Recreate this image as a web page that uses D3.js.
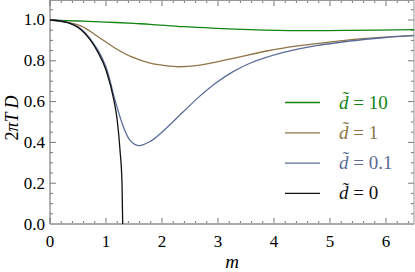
<!DOCTYPE html>
<html>
<head>
<meta charset="utf-8">
<script src="https://cdn.jsdelivr.net/npm/d3@7"></script>
<style>
  body { margin: 0; background: #fff; }
  #chart text { font-family: "Liberation Serif", "DejaVu Serif", "Times New Roman", Times, serif; }
</style>
</head>
<body>
<svg id="chart" width="415" height="272"></svg>
<script>
// values: [m, 2πTD]
var d10 = [[0,1],[0.5,0.995],[1,0.99],[1.5,0.983],[1.79,0.979],[2.38,0.967],[2.98,0.959],[3.57,0.953],[4.46,0.948],[5.4,0.949],[6.5,0.953]];
var d1 = [[0,1],[0.3,0.99],[0.56,0.97],[0.86,0.918],[1.15,0.864],[1.45,0.82],[1.79,0.788],[1.93,0.781],[2.26,0.771],[2.68,0.779],[3.27,0.812],[3.87,0.848],[4.46,0.874],[5.06,0.894],[5.65,0.91],[6.5,0.925]];
var d01 = [[0,1],[0.3,0.99],[0.56,0.955],[0.85,0.855],[1.0,0.77],[1.16,0.608],[1.31,0.477],[1.43,0.41],[1.58,0.384],[1.79,0.405],[2.02,0.455],[2.38,0.55],[2.68,0.628],[2.98,0.695],[3.27,0.747],[3.57,0.788],[4.17,0.841],[4.76,0.874],[5.36,0.897],[5.95,0.913],[6.5,0.923]];
var d0 = [[0,1],[0.3,0.988],[0.56,0.951],[0.85,0.845],[1.0,0.755],[1.14,0.608],[1.2,0.51],[1.25,0.363],[1.286,0.2],[1.298,0]];

var seriesNames = ["10", "1", "0.1", "0"];
var seriesColors = ["#128412", "#8e7446", "#5a6c98", "#111"];
var seriesData = [d10, d1, d01, d0];

var xTicks = [0,1,2,3,4,5,6];
var yTicks = [0,0.2,0.4,0.6,0.8,1.0];

(function() {
var svg = d3.select("#chart");
var pl = 50, pr = 414, pt = 0, pb = 224;

var x = d3.scaleLinear().domain([0, 6.5]).range([pl, pr]);
var y = d3.scaleLinear().domain([0, 1.098]).range([pb, pt]);

var tickCol = "#777";

// minor ticks
var xMinor = d3.range(0, 6.5001, 0.2);
var yMinor = d3.range(0, 1.1, 0.05);

var g = svg.append("g");
xMinor.forEach(function(v) {
  var major = Math.abs(v - Math.round(v)) < 1e-6;
  var len = major ? 6 : 3;
  g.append("line").attr("x1", x(v)).attr("x2", x(v)).attr("y1", pb).attr("y2", pb - len).attr("stroke", tickCol);
  g.append("line").attr("x1", x(v)).attr("x2", x(v)).attr("y1", pt).attr("y2", pt + len).attr("stroke", tickCol);
});
yMinor.forEach(function(v) {
  var major = Math.abs(v * 5 - Math.round(v * 5)) < 1e-6;
  var len = major ? 6 : 3;
  g.append("line").attr("x1", pl).attr("x2", pl + len).attr("y1", y(v)).attr("y2", y(v)).attr("stroke", tickCol);
  g.append("line").attr("x1", pr).attr("x2", pr - len).attr("y1", y(v)).attr("y2", y(v)).attr("stroke", tickCol);
});

// frame
g.append("line").attr("x1", pl).attr("x2", pl).attr("y1", pt).attr("y2", pb).attr("stroke", "#666");
g.append("line").attr("x1", pr).attr("x2", pr).attr("y1", pt).attr("y2", pb).attr("stroke", "#999");
g.append("line").attr("x1", pl).attr("x2", pr).attr("y1", pt + 0.5).attr("y2", pt + 0.5).attr("stroke", "#999");
g.append("line").attr("x1", pl).attr("x2", pr).attr("y1", pb).attr("y2", pb).attr("stroke", "#aaa").attr("stroke-width", 2);

// tick labels
svg.selectAll(".xl").data(xTicks).enter().append("text")
  .attr("x", function(d) { return x(d); }).attr("y", 247)
  .attr("text-anchor", "middle").attr("font-size", 17).text(function(d) { return d; });
svg.selectAll(".yl").data(yTicks).enter().append("text")
  .attr("x", 45).attr("y", function(d) { return y(d) + 5.5; })
  .attr("text-anchor", "end").attr("font-size", 17).text(function(d) { return d.toFixed(1); });

// axis labels
svg.append("text").attr("x", 232).attr("y", 268).attr("text-anchor", "middle")
  .attr("font-size", 19).attr("font-style", "italic").text("m");
var yl = svg.append("text").attr("transform", "translate(18,118) rotate(-90)")
  .attr("text-anchor", "middle").attr("font-size", 18);
yl.append("tspan").text("2");
yl.append("tspan").attr("font-style", "italic").text("πT D");

// curves
var smooth = d3.line().x(function(d) { return x(d[0]); }).y(function(d) { return y(d[1]); }).curve(d3.curveCatmullRom.alpha(0.5));
var steep = d3.line().x(function(d) { return x(d[0]); }).y(function(d) { return y(d[1]); }).curve(d3.curveMonotoneX);
var plot = svg.append("g");
seriesData.forEach(function(s, i) {
  plot.append("path").attr("d", (i === 3 ? steep : smooth)(s)).attr("fill", "none")
    .attr("stroke", seriesColors[i]).attr("stroke-width", 1.3);
});

// legend
var lg = svg.append("g");
seriesNames.forEach(function(n, i) {
  var ly = 102.5 + i * 30.3;
  lg.append("line").attr("x1", 285).attr("x2", 320).attr("y1", ly).attr("y2", ly)
    .attr("stroke", seriesColors[i]).attr("stroke-width", 1.3);
  var t = lg.append("text").attr("x", 339).attr("y", ly + 6).attr("font-size", 19).attr("fill", seriesColors[i]);
  t.append("tspan").attr("font-style", "italic").text("d\u0303");
  t.append("tspan").text(" = " + n);
});
})();
</script>
</body>
</html>
